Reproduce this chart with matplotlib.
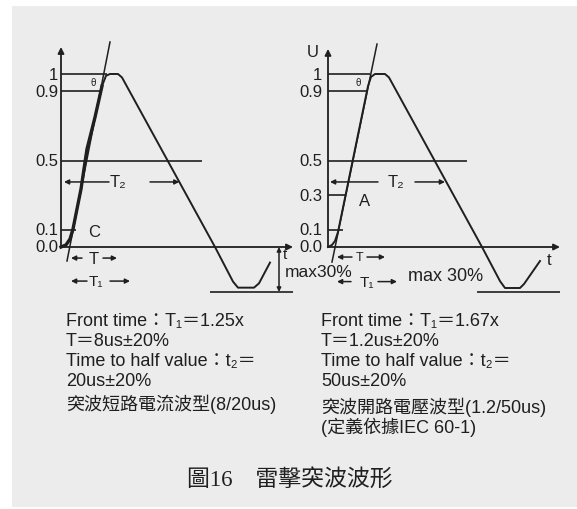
import matplotlib.pyplot as plt
from matplotlib.patches import Rectangle

W, H = 577, 510
INK = '#1f1f1f'
PAPER = '#ececec'

# time in drawing units, value in p.u.
# 8/20us current wave (left)
cur_t = [0, 0.25, 0.45, 0.6, 0.8, 1.0, 1.2, 1.3, 1.7, 2.05, 2.25, 2.45, 2.85, 3.05,
         7.7, 8.6, 8.85, 9.65, 9.9, 10.45]
cur_u = [0, 0.012, 0.046, 0.104, 0.22, 0.335, 0.49, 0.566, 0.75, 0.93, 0.99, 1.0, 1.0, 0.98,
         0, -0.2, -0.235, -0.235, -0.21, -0.09]
cur_tan_t = [0.3, 2.45]
cur_tan_u = [-0.081, 1.185]
cur_levels = [1, 0.9, 0.5, 0.1]
cur_level_ends = [2.3, 2.05, 7.05, 0.75]
cur_ticks = [1, 0.9, 0.5, 0.1, 0.0]
cur_tick_labels = ['1', '0.9', '0.5', '0.1', '0.0']

# 1.2/50us voltage wave (right)
volt_t = [0, 0.2, 0.35, 0.5, 2.0, 2.15, 2.35, 2.85, 3.05,
          7.7, 8.6, 8.85, 9.6, 9.8, 10.6]
volt_u = [0, 0.012, 0.035, 0.087, 0.93, 0.983, 1.0, 1.0, 0.98,
          0, -0.197, -0.237, -0.237, -0.214, -0.081]
volt_tan_t = [0.2, 2.45]
volt_tan_u = [-0.087, 1.173]
volt_levels = [1, 0.9, 0.5, 0.3, 0.1]
volt_level_ends = [2.1, 2.0, 6.95, 0.85, 0.75]
volt_ticks = [1, 0.9, 0.5, 0.3, 0.1, 0.0]
volt_tick_labels = ['1', '0.9', '0.5', '0.3', '0.1', '0.0']

undershoot = -0.26
undershoot_span = [7.45, 11.6]
t_end = 11.6

left_notes = ['Front time：T₁＝1.25x', 'T＝8us±20%', 'Time to half value：t₂＝',
              '20us±20%', '突波短路電流波型(8/20us)']
right_notes = ['Front time：T₁＝1.67x', 'T＝1.2us±20%', 'Time to half value：t₂＝',
               '50us±20%', '突波開路電壓波型(1.2/50us)', '(定義依據IEC 60-1)']
title = '圖16　雷擊突波波形'

# layout: 20 px per time unit, 173 px per p.u., x axis at y=248 px
PX_T, PX_U, Y0 = 20, 173, 248
TLIM = (-3.0, 12.0)
ULIM = (-0.42, 1.22)

SANS = ['Liberation Sans', 'DejaVu Sans']
TEXT = ['Liberation Sans', 'Noto Sans CJK TC', 'DejaVu Sans']


def fig_xy(x, y):
    return x / W, 1 - y / H


def panel(fig, x0):
    left = x0 + TLIM[0] * PX_T
    top = Y0 - ULIM[1] * PX_U
    w = (TLIM[1] - TLIM[0]) * PX_T
    h = (ULIM[1] - ULIM[0]) * PX_U
    ax = fig.add_axes([left / W, 1 - (top + h) / H, w / W, h / H])
    ax.set_xlim(*TLIM)
    ax.set_ylim(*ULIM)
    ax.axis('off')
    ax.patch.set_visible(False)
    return ax


def arrow(ax, start, end, lw=1.1, ms=7, style='-|>'):
    ax.annotate('', xy=end, xytext=start,
                arrowprops=dict(arrowstyle=style, color=INK, lw=lw, mutation_scale=ms,
                                shrinkA=0, shrinkB=0))


def label(ax, t, u, s, size=12, ha='center'):
    ax.text(t, u, s, fontsize=size, color=INK, ha=ha, va='center', family=SANS)


def axes_and_levels(ax, levels, ends, ticks, tick_labels, u_top, tick_x):
    arrow(ax, (0, 0), (t_end, 0), lw=1.3, ms=9)
    arrow(ax, (0, 0), (0, u_top), lw=1.3, ms=9)
    ax.hlines(levels, 0, ends, color=INK, lw=1.2)
    ax.hlines(undershoot, *undershoot_span, color=INK, lw=1.2)
    for v, s in zip(ticks, tick_labels):
        label(ax, tick_x, v, s, size=12, ha='right')


fig = plt.figure(figsize=(W / 100, H / 100), dpi=100)
fig.patch.set_facecolor('white')
fig.patches.append(Rectangle(fig_xy(12, 508), (W - 12) / W, (508 - 7) / H,
                             transform=fig.transFigure, facecolor=PAPER,
                             edgecolor='none', zorder=-10))

# left: current wave
ax = panel(fig, 61)
axes_and_levels(ax, cur_levels, cur_level_ends, cur_ticks, cur_tick_labels, 1.156, -0.15)
ax.plot(cur_t, cur_u, color=INK, lw=1.4)
ax.plot(cur_t[:10], cur_u[:10], color=INK, lw=2.4)
ax.plot(cur_tan_t, cur_tan_u, color=INK, lw=1.1)
label(ax, 1.6, 0.955, 'θ', size=7)
label(ax, 1.35, 0.09, 'C', size=12, ha='left')
arrow(ax, (2.4, 0.376), (0.15, 0.376))
label(ax, 2.85, 0.376, 'T₂', size=12)
arrow(ax, (4.45, 0.376), (5.92, 0.376))
arrow(ax, (1.05, -0.064), (0.5, -0.064))
label(ax, 1.65, -0.064, 'T', size=12)
arrow(ax, (2.1, -0.064), (2.8, -0.064))
arrow(ax, (1.3, -0.197), (0.5, -0.197))
label(ax, 1.75, -0.197, 'T₁', size=11)
arrow(ax, (2.45, -0.197), (3.45, -0.197))
arrow(ax, (10.9, 0), (10.9, undershoot), lw=1.1, ms=6, style='<|-|>')
label(ax, 11.1, -0.04, 't', size=11, ha='left')
label(ax, 11.2, -0.14, 'max30%', size=12.5, ha='left')

# right: voltage wave
ax = panel(fig, 328)
axes_and_levels(ax, volt_levels, volt_level_ends, volt_ticks, volt_tick_labels, 1.145, -0.3)
ax.plot(volt_t, volt_u, color=INK, lw=1.4)
ax.plot(volt_tan_t, volt_tan_u, color=INK, lw=1.1)
label(ax, -0.75, 1.13, 'U', size=12)
label(ax, 1.5, 0.955, 'θ', size=7)
label(ax, 1.85, 0.27, 'A', size=12)
arrow(ax, (2.5, 0.376), (0.1, 0.376))
label(ax, 3.4, 0.376, 'T₂', size=12)
arrow(ax, (4.35, 0.376), (5.85, 0.376))
arrow(ax, (1.2, -0.058), (0.45, -0.058))
label(ax, 1.6, -0.058, 'T', size=9)
arrow(ax, (1.95, -0.058), (2.85, -0.058))
arrow(ax, (1.15, -0.2), (0.45, -0.2))
label(ax, 1.95, -0.2, 'T₁', size=11)
arrow(ax, (2.5, -0.2), (3.45, -0.2))
label(ax, 10.95, -0.07, 't', size=12, ha='left')
label(ax, 4.0, -0.165, 'max 30%', size=13, ha='left')

# notes under the waves
for s, y in zip(left_notes, [322, 342, 361, 381, 404]):
    fig.text(*fig_xy(66, y), s, fontsize=13, color=INK, va='center', family=TEXT)
for s, y in zip(right_notes, [322, 342, 362, 382, 407, 427]):
    fig.text(*fig_xy(321, y), s, fontsize=13, color=INK, va='center', family=TEXT)

fig.text(*fig_xy(290, 480), title, fontsize=16.5, color=INK, ha='center', va='center',
         family=['Liberation Serif', 'Noto Sans CJK TC'])

fig.savefig('out.png', dpi=100, facecolor=fig.get_facecolor())
